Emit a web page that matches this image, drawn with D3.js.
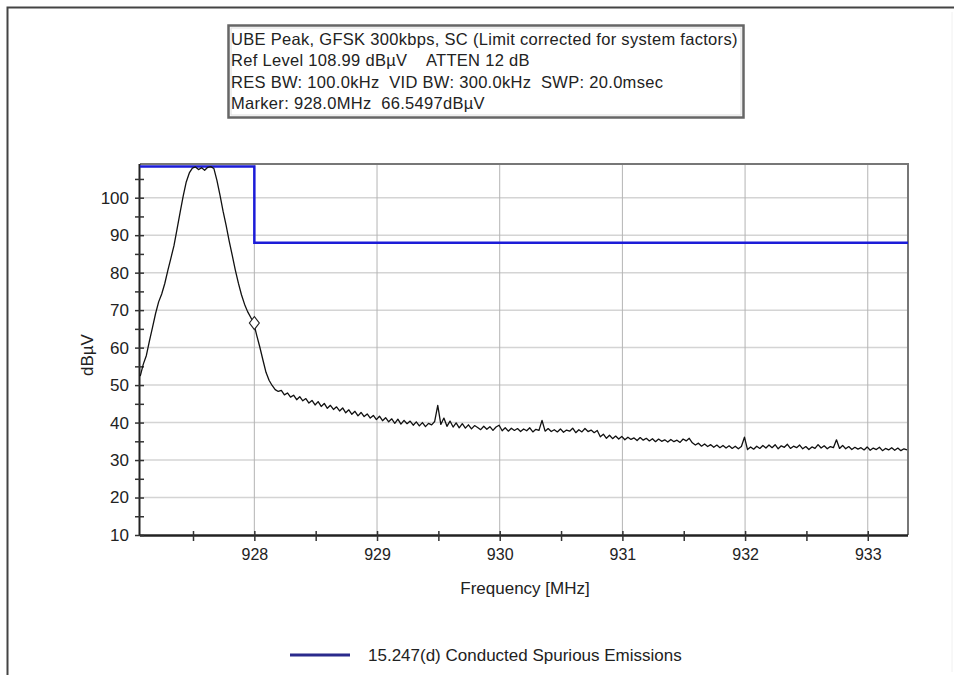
<!DOCTYPE html>
<html>
<head>
<meta charset="utf-8">
<script src="https://cdn.jsdelivr.net/npm/d3@7"></script>
<style>
  body { margin: 0; background: #fff; }
  svg { display: block; font-family: "Liberation Sans", Arial, sans-serif; }
</style>
</head>
<body>
<div id="grafica"></div>
<script>
// header text of the analyzer plot
var infoLines = [
    "UBE Peak, GFSK 300kbps, SC (Limit corrected for system factors)",
    "Ref Level 108.99 dB\u00b5V    ATTEN 12 dB",
    "RES BW: 100.0kHz  VID BW: 300.0kHz  SWP: 20.0msec",
    "Marker: 928.0MHz  66.5497dB\u00b5V"
];

var xTicks = [928, 929, 930, 931, 932, 933];
var yTicks = [10, 20, 30, 40, 50, 60, 70, 80, 90, 100];

// sweep bins (MHz)
var sweepStart = 927.07,
    sweepStep = 0.025;

// measured level per bin, dBuV
var traceLevels = [
    52.4, 55.6, 57.9, 61.8, 65.4, 69.1, 72.2, 74.3, 77.1, 80.6,
    83.9, 87.2, 91.6, 96.1, 100.4, 104.2, 106.6, 107.9, 108.2, 107.5,
    108.0, 107.3, 108.1, 108.3, 107.8, 104.6, 100.7, 96.4, 92.6, 88.4,
    84.6, 80.7, 77.2, 74.1, 71.6, 69.6, 68.1, 66.5, 63.2, 60.1,
    56.7, 53.4, 51.3, 49.9, 48.8, 48.3,
    48.6, 47.4, 47.9, 46.8, 47.3, 46.1, 46.9, 45.8, 46.4, 45.2,
    45.9, 44.7, 45.6, 44.3, 45.1, 43.8, 44.6, 43.5, 44.2, 43.1,
    43.9, 42.6, 43.4, 42.2, 43.0, 41.8, 42.7, 41.6, 42.3, 41.2,
    41.9, 40.8, 41.7, 40.5, 41.3, 40.2, 41.0, 39.8, 40.9, 39.6,
    40.6, 39.7, 40.4, 39.3, 40.2, 39.1, 40.0, 38.9, 39.8, 39.4,
    40.3, 44.6, 39.5, 41.2, 39.0, 40.4, 38.8, 39.9, 38.6, 39.7,
    38.5, 39.4, 38.3, 39.2, 38.7, 38.1, 39.0, 38.2, 38.9, 37.9,
    38.8, 39.3, 37.8, 38.6, 37.7, 38.5, 37.9, 38.4, 37.6, 38.3,
    37.8, 38.6, 37.5, 38.2, 37.9, 40.6, 37.7, 38.4, 37.6, 38.1,
    37.5, 38.3, 37.4, 38.0, 37.7, 38.5, 37.3, 38.1, 37.5, 38.4,
    37.6, 38.0, 37.3, 37.9, 36.2, 36.9, 35.8, 36.6, 35.7, 36.4,
    35.6, 36.3, 35.4, 36.1, 35.5, 35.9, 35.2, 36.0, 35.3, 35.8,
    35.1, 35.7, 34.9, 35.6, 35.0, 35.4, 34.8, 35.5, 34.9, 35.3,
    34.7, 35.6, 35.1, 35.8, 34.6, 34.0, 34.5, 33.7, 34.3, 33.6,
    34.1, 33.4, 34.0, 33.3, 33.9, 33.2, 33.8, 33.1, 33.7, 33.0,
    33.6, 36.1, 32.8, 33.5, 32.9, 33.7, 33.1, 33.9, 33.2, 34.0,
    33.3, 34.1, 33.0, 33.8, 33.4, 34.2, 33.1, 33.7, 33.3, 34.0,
    33.0, 33.6, 32.8, 33.5, 33.1, 34.1, 33.2, 33.8, 33.0, 33.6,
    33.3, 35.4, 33.1, 33.9, 33.0, 33.6, 32.8, 33.4, 32.9, 33.3,
    32.7, 33.5, 32.6, 33.2, 32.8, 33.4, 32.5, 33.1, 32.7, 33.3,
    32.6, 33.2, 32.5, 33.0, 32.7
];

// 15.247(d) limit, stepped
var limitFreqs = [927.068, 928.0, 928.0, 933.328];
var limitLevels = [108.3, 108.3, 88.0, 88.0];

var markerFreq = 928.0,
    markerLevel = 66.5497;

var legendLabel = "15.247(d) Conducted Spurious Emissions";

var width = 954,
    height = 675;
var plot = { left: 140, right: 908, top: 164, bottom: 535 };

var svg = d3.select("#grafica")
            .append("svg")
            .attr("width", width)
            .attr("height", height);

var x = d3.scaleLinear()
    .domain([927.068, 933.328])
    .range([plot.left, plot.right]);
var y = d3.scaleLinear()
    .domain([10, 108.99])
    .range([plot.bottom, plot.top]);

// outer frame
svg.append("path")
    .attr("d", "M7.5,675V7.5H954")
    .attr("fill", "none")
    .attr("stroke", "#444")
    .attr("stroke-width", 2);
svg.append("line")
    .attr("x1", 952).attr("x2", 952).attr("y1", 12).attr("y2", 672)
    .attr("stroke", "#f0f0f0");

// info box
var box = svg.append("g");
box.append("rect")
    .attr("x", 228.5).attr("y", 25.5)
    .attr("width", 515).attr("height", 92)
    .attr("fill", "#fff")
    .attr("stroke", "#666")
    .attr("stroke-width", 2.5);
box.append("rect")
    .attr("x", 231).attr("y", 28)
    .attr("width", 510).attr("height", 87)
    .attr("fill", "none")
    .attr("stroke", "#ddd")
    .attr("stroke-width", 1);
box.selectAll("text")
    .data(infoLines)
    .enter()
    .append("text")
        .attr("x", 231)
        .attr("y", function(d, i) { return 45 + i * 21.3; })
        .attr("font-size", 16.5)
        .attr("letter-spacing", 0.3)
        .attr("fill", "#222")
        .style("white-space", "pre")
        .text(function(d) { return d; });

// grid
svg.append("g")
    .selectAll("line")
    .data(yTicks.filter(function(d) { return d > 10; }))
    .enter()
    .append("line")
        .attr("x1", plot.left).attr("x2", plot.right)
        .attr("y1", function(d) { return y(d); })
        .attr("y2", function(d) { return y(d); })
        .attr("stroke", "#d4d4d4")
        .attr("stroke-width", 1.5);
svg.append("g")
    .selectAll("line")
    .data(xTicks)
    .enter()
    .append("line")
        .attr("x1", function(d) { return x(d); })
        .attr("x2", function(d) { return x(d); })
        .attr("y1", plot.top).attr("y2", plot.bottom)
        .attr("stroke", "#b4b4b4")
        .attr("stroke-width", 1);

// plot frame top / right
svg.append("path")
    .attr("d", "M" + plot.left + "," + plot.top + "H" + plot.right + "V" + plot.bottom)
    .attr("fill", "none")
    .attr("stroke", "#777")
    .attr("stroke-width", 2);

// axes
var xAxis = svg.append("g")
    .attr("transform", "translate(0," + plot.bottom + ")")
    .call(d3.axisBottom(x)
        .tickValues(d3.range(927.5, 933.4, 0.5))
        .tickSize(6)
        .tickFormat(function(d) { return xTicks.indexOf(d) >= 0 ? d : ""; }));
xAxis.select(".domain")
    .attr("d", "M" + plot.left + ",0.5H" + plot.right)
    .attr("stroke", "#222")
    .attr("stroke-width", 2.5);
xAxis.selectAll(".tick line")
    .attr("y1", -4)
    .attr("stroke", "#333")
    .attr("stroke-width", 1.5);
xAxis.selectAll(".tick text")
    .attr("y", 20)
    .attr("dy", "0.32em")
    .attr("font-size", 16)
    .attr("font-family", "Liberation Sans, Arial, sans-serif")
    .attr("fill", "#222");

var yAxis = svg.append("g")
    .attr("transform", "translate(" + plot.left + ",0)")
    .call(d3.axisLeft(y)
        .tickValues(d3.range(10, 109, 5))
        .tickSize(5)
        .tickPadding(6)
        .tickFormat(function(d) { return yTicks.indexOf(d) >= 0 ? d : ""; }));
yAxis.select(".domain")
    .attr("d", "M-0.5," + plot.top + "V" + plot.bottom)
    .attr("stroke", "#222")
    .attr("stroke-width", 2);
yAxis.selectAll(".tick line")
    .attr("x1", 4)
    .attr("stroke", "#333")
    .attr("stroke-width", 1.5);
yAxis.selectAll(".tick text")
    .attr("font-size", 17)
    .attr("font-family", "Liberation Sans, Arial, sans-serif")
    .attr("fill", "#222");

// axis titles
svg.append("text")
    .attr("x", 525).attr("y", 594)
    .attr("text-anchor", "middle")
    .attr("font-size", 17)
    .attr("fill", "#222")
    .text("Frequency [MHz]");
svg.append("text")
    .attr("transform", "translate(93,355) rotate(-90)")
    .attr("text-anchor", "middle")
    .attr("font-size", 17)
    .attr("fill", "#222")
    .text("dB\u00b5V");

// limit line
var limitLine = d3.line()
    .x(function(d, i) { return x(limitFreqs[i]); })
    .y(function(d) { return y(d); });
svg.append("path")
    .datum(limitLevels)
    .attr("d", limitLine)
    .attr("fill", "none")
    .attr("stroke", "#1c1cd8")
    .attr("stroke-width", 2.5);

// trace
var traceLine = d3.line()
    .x(function(d, i) { return x(sweepStart + i * sweepStep); })
    .y(function(d) { return y(d); });
svg.append("path")
    .datum(traceLevels)
    .attr("d", traceLine)
    .attr("fill", "none")
    .attr("stroke", "#111")
    .attr("stroke-width", 1.3)
    .attr("stroke-linejoin", "round");

// marker
svg.append("path")
    .attr("d", d3.symbol().type(d3.symbolDiamond).size(60))
    .attr("transform", "translate(" + x(markerFreq) + "," + y(markerLevel) + ") scale(1.2,0.9)")
    .attr("fill", "#fff")
    .attr("stroke", "#222")
    .attr("stroke-width", 1);

// legend
var legend = svg.append("g");
legend.append("line")
    .attr("x1", 290).attr("x2", 350)
    .attr("y1", 655).attr("y2", 655)
    .attr("stroke", "#2a2a8c")
    .attr("stroke-width", 3);
legend.append("text")
    .attr("x", 368).attr("y", 661)
    .attr("font-size", 17)
    .attr("fill", "#222")
    .text(legendLabel);
</script>
</body>
</html>
